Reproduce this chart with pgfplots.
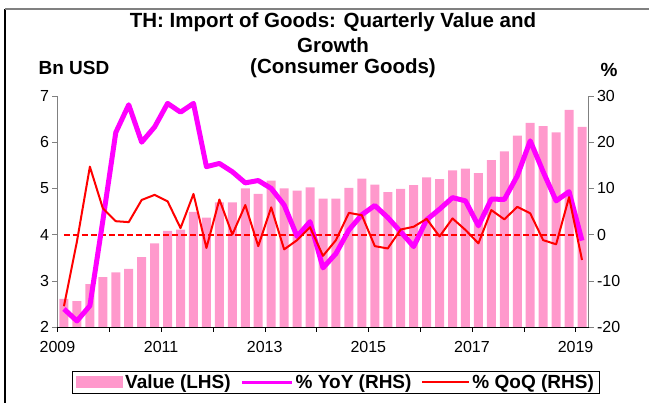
\documentclass[border=0pt]{standalone}
\usepackage{fontspec}
\setmainfont{Liberation Sans}
\usepackage{pgfplots}
\usepackage{pgfplotstable}
\pgfplotsset{compat=1.18}

\definecolor{valuePink}{HTML}{FF99CC}
\definecolor{yoyMagenta}{HTML}{FF00FF}
\definecolor{qoqRed}{HTML}{FF0000}
\definecolor{axisGrey}{HTML}{808080}

% quarters 2009Q1 .. 2019Q1 as 0..40
\pgfplotstableread{
q value yoy qoq
0  2.61 -16.1 -15.5
1  2.56 -18.7 -1.5
2  2.93 -15.4 14.7
3  3.08  3.0  5.7
4  3.18 22.1  2.9
5  3.26 28.1  2.7
6  3.51 20.0  7.5
7  3.81 23.3  8.6
8  4.08 28.4  7.2
9  4.11 26.5  1.4
10 4.49 28.4  8.8
11 4.37 14.7 -2.9
12 4.70 15.4  7.6
13 4.70 13.6  0.0
14 5.00 11.2  6.4
15 4.88 11.7 -2.5
16 5.17 10.0  5.9
17 5.00  6.4 -3.2
18 4.95 -0.4 -1.2
19 5.02  2.8  1.6
20 4.78 -7.2 -4.6
21 4.78 -4.1 -1.2
22 5.01  1.0  4.7
23 5.21  4.3  4.2
24 5.08  6.3 -2.5
25 4.92  3.7 -3.0
26 4.99  0.6  1.1
27 5.07 -2.6  1.7
28 5.24  3.2  3.4
29 5.20  5.5 -0.4
30 5.39  8.0  3.5
31 5.43  7.3  1.0
32 5.33  1.9 -1.9
33 5.61  7.7  5.3
34 5.80  7.6  3.3
35 6.14 12.7  6.0
36 6.42 20.3  4.6
37 6.35 13.6 -1.2
38 6.21  7.3 -2.1
39 6.70  9.3  8.1
40 6.33 -1.3 -5.5
}\importdata

% axis box lower-left corner sits at the picture origin
\pgfplotsset{
  thstyle/.style={
    scale only axis, width=531pt, height=231pt,
    xmin=-0.5, xmax=40.5,
    tick align=outside, major tick length=5pt,
    tick label style={font=\fontsize{16}{18}\selectfont},
    /pgf/number format/assume math mode=true,
  }
}

\begin{document}
\begin{tikzpicture}[x=1pt,y=1pt]
\useasboundingbox (-57.5,-76) rectangle (591.5,327);

\begin{axis}[thstyle,
  ymin=2, ymax=7, ytick={2,...,7},
  axis y line*=left, axis x line*=bottom,
  x axis line style={black}, y axis line style={axisGrey, line width=1pt},
  xtick style={black}, ytick style={axisGrey},
  xtick={-0.5,3.5,...,39.5},
  xticklabels={2009,,2011,,2013,,2015,,2017,,2019},
  xticklabel style={yshift=-6pt},
  ybar, bar width=9pt]
\addplot[fill=valuePink, draw=none] table[x=q, y=value] {\importdata};
\end{axis}

\begin{axis}[thstyle,
  ymin=-20, ymax=30, ytick={-20,-10,...,30},
  axis y line*=right, axis x line=none,
  y axis line style={axisGrey, line width=1pt}, ytick style={axisGrey},
  legend columns=3, legend cell align=left,
  legend style={at={(0.5245,-0.240)}, anchor=center, draw=black, line width=1pt,
    font=\bfseries\fontsize{19}{21}\selectfont, inner xsep=4pt, inner ysep=1pt,
    /tikz/every even column/.append style={column sep=8pt}}]
\addlegendimage{legend image code/.code={\fill[valuePink] (0pt,-5.5pt) rectangle (46pt,5.5pt);}}
\addlegendentry{Value (LHS)}
\addplot[qoqRed, line width=2pt, dash pattern=on 6pt off 3pt, forget plot]
  coordinates {(0,0) (40,0)};
\addplot[yoyMagenta, line width=5pt, line join=round,
  legend image code/.code={\draw[yoyMagenta, line width=3pt] (0pt,0pt) -- (50pt,0pt);}]
  table[x=q, y=yoy] {\importdata};
\addlegendentry{\% YoY (RHS)}
\addplot[qoqRed, line width=2pt, line join=round,
  legend image code/.code={\draw[qoqRed, line width=2pt] (0pt,0pt) -- (47pt,0pt);}]
  table[x=q, y=qoq] {\importdata};
\addlegendentry{\% QoQ (RHS)}
\end{axis}

% titles
\node[font=\bfseries\fontsize{20.5}{23}\selectfont] at (275.5,305) {TH: Import of Goods: Quarterly Value and};
\node[font=\bfseries\fontsize{20.5}{23}\selectfont] at (275.5,282) {Growth};
\node[font=\bfseries\fontsize{20.5}{23}\selectfont] at (285.5,259) {(Consumer Goods)};
\node[font=\bfseries\fontsize{19}{22}\selectfont] at (16.5,259) {Bn USD};
\node[font=\bfseries\fontsize{19}{22}\selectfont] at (551.5,257) {\%};

% frame
\draw[black, line width=1.2pt] (-52.5,-76) -- (-52.5,318);
\draw[axisGrey, line width=2pt] (-52.5,318) -- (591.5,318);
\end{tikzpicture}
\end{document}
